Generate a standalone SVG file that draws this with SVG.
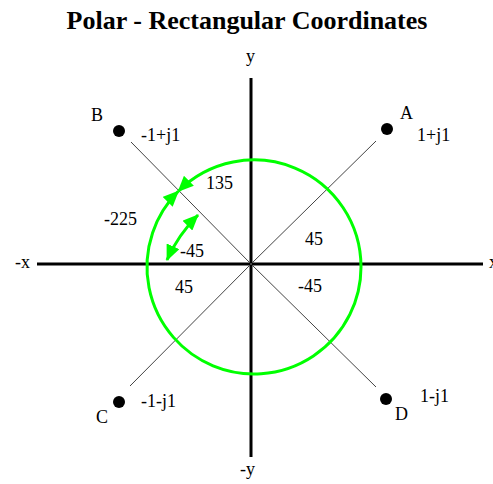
<svg xmlns="http://www.w3.org/2000/svg" width="493" height="484" viewBox="0 0 493 484">
<style>
text{font-family:"Liberation Serif","Times New Roman",serif;font-size:18px;fill:#000}
.title{font-size:26px;font-weight:bold}
.axis{stroke:#000;stroke-width:3;fill:none}
.diag{stroke:#444;stroke-width:1;fill:none}
.arc{stroke:#00ff00;stroke-width:3;fill:none}
.dot{fill:#000}
</style>
<defs>
<marker id="ah" markerUnits="userSpaceOnUse" markerWidth="16" markerHeight="14" viewBox="0 0 16 14" refX="15" refY="7" orient="auto-start-reverse">
<path d="M0,0 L16,7 L0,14 Z" fill="#00ff00"/>
</marker>
</defs>
<rect width="493" height="484" fill="#fff"/>
<text class="title" x="247" y="29" text-anchor="middle">Polar - Rectangular Coordinates</text>
<g id="axes">
<line class="axis" x1="251" y1="78" x2="251" y2="457"/>
<line class="axis" x1="37" y1="264" x2="483" y2="264"/>
<text x="246" y="62">y</text>
<text x="240" y="475">-y</text>
<text x="15" y="268">-x</text>
<text x="489" y="268">x</text>
</g>
<g id="connectors">
<line class="diag" x1="251" y1="264" x2="376" y2="141"/>
<line class="diag" x1="251" y1="264" x2="131" y2="142"/>
<line class="diag" x1="251" y1="264" x2="130" y2="386"/>
<line class="diag" x1="251" y1="264" x2="376" y2="387"/>
<path class="arc" d="M361,267 A107,107 0 0 0 178.3,191.3" marker-end="url(#ah)"/>
<path class="arc" d="M361,267 A107,107 0 1 1 178.3,191.3" marker-end="url(#ah)"/>
<path class="arc" d="M198,215 Q178,235 167,260" marker-start="url(#ah)" marker-end="url(#ah)"/>
</g>
<g id="A">
<circle class="dot" cx="387" cy="129" r="6"/>
<text x="400" y="119">A</text>
<text x="417" y="141">1+j1</text>
</g>
<g id="B">
<circle class="dot" cx="119" cy="131" r="6"/>
<text x="91" y="121">B</text>
<text x="141" y="141">-1+j1</text>
</g>
<g id="C">
<circle class="dot" cx="119" cy="402" r="6"/>
<text x="96" y="423">C</text>
<text x="141" y="407">-1-j1</text>
</g>
<g id="D">
<circle class="dot" cx="386" cy="399" r="6"/>
<text x="395" y="420">D</text>
<text x="420" y="402">1-j1</text>
</g>
<g id="angles">
<text x="206" y="189">135</text>
<text x="104" y="225">-225</text>
<text x="180" y="257">-45</text>
<text x="305" y="245">45</text>
<text x="175" y="293">45</text>
<text x="298" y="292">-45</text>
</g>
</svg>
